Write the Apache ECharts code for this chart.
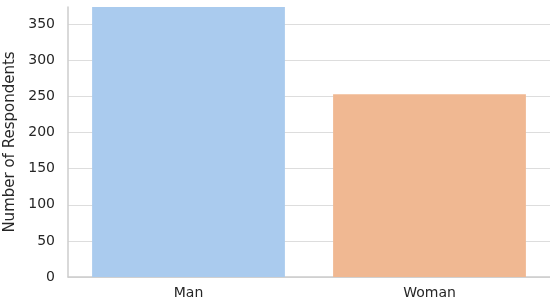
<!DOCTYPE html>
<html>
<head>
<meta charset="utf-8">
<script src="https://cdn.jsdelivr.net/npm/echarts@6/dist/echarts.min.js"></script>
<style>
  html, body { margin: 0; padding: 0; background: #fff; }
  #chart { width: 550px; height: 303px; }
</style>
</head>
<body>
<div id="chart"></div>
<script>
var categories = ['Man', 'Woman'];
var respondents = [374, 253];
var barColors = ['#aacbee', '#f0b892'];
var yTicks = [0, 50, 100, 150, 200, 250, 300, 350];

(function () {
  var font = 'DejaVu Sans';
  var ink = '#262626';
  var chart = echarts.init(document.getElementById('chart'), null, { renderer: 'canvas' });
  chart.setOption({
    animation: false,
    grid: { left: 68, right: 0, top: 7, bottom: 26, outerBoundsMode: 'none', containLabel: false },
    xAxis: {
      type: 'category',
      data: categories,
      axisTick: { show: false },
      axisLine: { lineStyle: { color: '#cccccc', width: 1.5 } },
      axisLabel: { color: ink, fontFamily: font, fontSize: 14, margin: 9 }
    },
    yAxis: {
      type: 'value',
      min: 0,
      max: 374,
      interval: yTicks[1] - yTicks[0],
      name: 'Number of Respondents',
      nameLocation: 'middle',
      nameGap: 45,
      nameTextStyle: { color: ink, fontFamily: font, fontSize: 15 },
      axisLine: { show: true, lineStyle: { color: '#cccccc', width: 1.5 } },
      axisTick: { show: false },
      axisLabel: {
        color: ink, fontFamily: font, fontSize: 14, margin: 13,
        showMaxLabel: false,
        formatter: function (v) { return yTicks.indexOf(v) >= 0 ? String(v) : ''; }
      },
      splitLine: { showMaxLine: false, lineStyle: { color: '#dddddd', width: 1.2 } }
    },
    series: [{
      type: 'bar',
      data: respondents.map(function (v, i) {
        return { value: v, itemStyle: { color: barColors[i] } };
      }),
      barCategoryGap: '20%'
    }]
  });
})();
</script>
</body>
</html>
